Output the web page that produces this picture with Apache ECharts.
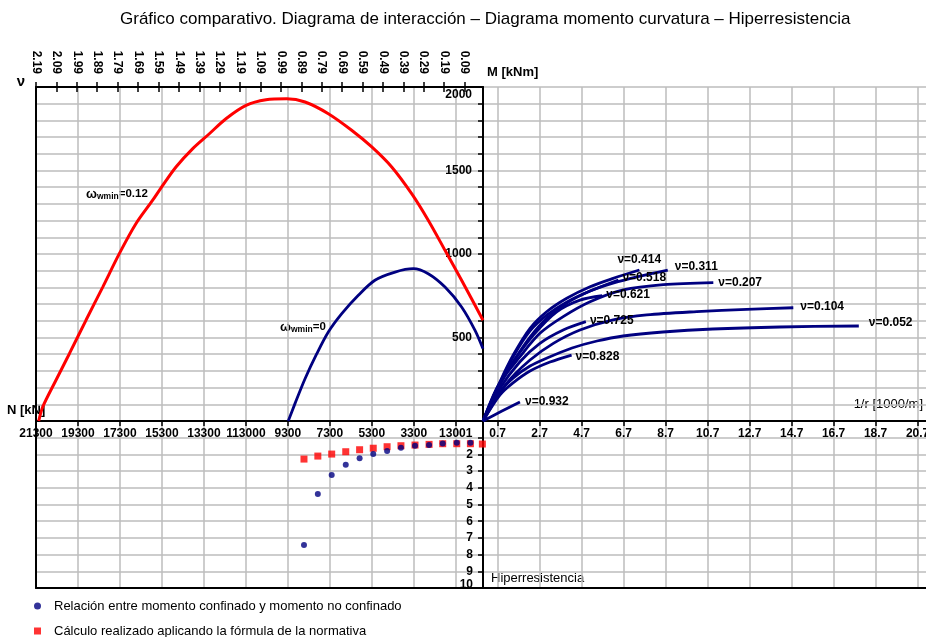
<!DOCTYPE html>
<html>
<head>
<meta charset="utf-8">
<script src="https://cdn.jsdelivr.net/npm/echarts@6/dist/echarts.min.js"></script>
<style>
  html, body { margin: 0; padding: 0; background: #fff; }
  #chart { width: 926px; height: 637px; }
</style>
</head>
<body>
<div id="chart"></div>
<script>
const FONT = '"Liberation Sans", Arial, Helvetica, sans-serif';

// Axial load axis N [kN], drawn reversed (21300 on the left, 0 at the centre line)
const nTicks = [21300, 19300, 17300, 15300, 13300, 11300, 9300, 7300, 5300, 3300, 1300];
const nTickLabels = ['21300', '19300', '17300', '15300', '13300', '113000', '9300', '7300', '5300', '3300', '13001'];

// Reduced axial load ν on the top axis
const nuTicks = [2.19, 2.09, 1.99, 1.89, 1.79, 1.69, 1.59, 1.49, 1.39, 1.29, 1.19,
                 1.09, 0.99, 0.89, 0.79, 0.69, 0.59, 0.49, 0.39, 0.29, 0.19, 0.09];
const nuTickLabels = ['2.19', '2.09', '1.99', '1.89', '1.79', '1.69', '1.59', '1.49', '1.39', '1.29', '1.19',
                      '1.09', '0.99', '0.89', '0.79', '0.69', '0.59', '0.49', '0.39', '0.29', '0.19', '0.09'];

// Curvature axis 1/r [1000/m]
const curvTicks = [0.7, 2.7, 4.7, 6.7, 8.7, 10.7, 12.7, 14.7, 16.7, 18.7, 20.7];
const curvTickLabels = ['0.7', '2.7', '4.7', '6.7', '8.7', '10.7', '12.7', '14.7', '16.7', '18.7', '20.7'];

// Interaction diagram, ω_wmin = 0.12 (N [kN], M [kNm])
const confinedN = [21170, 20980, 20350, 19710, 18920, 18120, 17330, 16540, 15740, 15260, 14630, 13830, 13040,
                   12250, 11290, 10340, 9350, 8480, 7370, 6260, 5300, 4350, 3400, 2610, 1810, 1020, 0];
const confinedM = [0, 84, 244, 403, 603, 802, 1002, 1181, 1322, 1411, 1521, 1631, 1720,
                   1810, 1890, 1924, 1930, 1910, 1840, 1741, 1641, 1521, 1361, 1202, 1022, 843, 603];

// Interaction diagram, ω_wmin = 0
const plainN = [9280, 8960, 8480, 7920, 7370, 6730, 5940, 5150, 4190, 3320, 2610, 1810, 1020, 380, 0];
const plainM = [0, 104, 253, 403, 533, 643, 753, 843, 892, 912, 882, 802, 683, 543, 433];

// Moment–curvature curves for each ν (curvature [1000/m], M [kNm])
const mc0414K = [0, 0.81, 1.44, 2.24, 3.03, 3.99, 5.10, 6.20, 7.45];
const mc0414M = [0, 235, 395, 555, 654, 735, 804, 854, 904];
const mc0311K = [0, 0.81, 1.43, 2.24, 3.05, 4.00, 5.10, 6.19, 7.48, 8.80];
const mc0311M = [0, 216, 353, 503, 617, 707, 778, 826, 868, 904];
const mc0518K = [0, 0.81, 1.43, 2.24, 3.05, 4.00, 5.10, 6.45];
const mc0518M = [0, 228, 383, 539, 635, 713, 778, 844];
const mc0207K = [0, 0.81, 1.76, 2.71, 3.82, 5.10, 6.68, 8.59, 10.97];
const mc0207M = [0, 228, 385, 525, 625, 714, 785, 817, 829];
const mc0621K = [0, 0.65, 1.44, 2.40, 3.51, 4.62, 5.68];
const mc0621M = [0, 196, 355, 515, 654, 724, 750];
const mc0104K = [0, 1.13, 2.24, 3.35, 4.62, 6.20, 7.80, 10.18, 12.56, 14.78];
const mc0104M = [0, 226, 365, 465, 545, 605, 635, 655, 669, 678];
const mc0725K = [0, 0.81, 1.76, 2.71, 3.82, 4.90];
const mc0725M = [0, 196, 355, 465, 545, 595];
const mc0052K = [0, 0.81, 1.43, 2.24, 3.05, 4.24, 5.43, 6.67, 8.57, 10.95, 14.14, 17.90];
const mc0052M = [0, 174, 257, 329, 377, 437, 479, 509, 533, 551, 563, 569];
const mc0828K = [0, 0.81, 1.43, 2.24, 3.19, 4.22];
const mc0828M = [0, 156, 228, 299, 353, 395];
const mc0932K = [0, 0.88, 1.76];
const mc0932M = [0, 58, 114];

// Over-strength ratios against axial load N [kN]
const ratioConfN = [8530, 7870, 7210, 6540, 5880, 5230, 4570, 3910, 3240, 2570, 1920, 1250, 600];
const ratioConf = [7.43, 4.37, 3.23, 2.62, 2.23, 1.98, 1.80, 1.60, 1.48, 1.44, 1.34, 1.30, 1.30];
const ratioCodeN = [8530, 7870, 7210, 6540, 5880, 5230, 4570, 3910, 3240, 2570, 1920, 1250, 600, 30];
const ratioCode = [2.28, 2.10, 1.98, 1.84, 1.72, 1.63, 1.54, 1.48, 1.44, 1.40, 1.36, 1.36, 1.36, 1.38];

const NAME_CONF = 'Relación entre momento confinado y momento no confinado';
const NAME_CODE = 'Cálculo realizado aplicando la fórmula de la normativa';

const RED = '#ff0000';
const NAVY = '#000080';

const zip = (a, b) => a.map((v, i) => [v, b[i]]);
const labelFor = (ticks, labels) => v => {
  const i = ticks.findIndex(t => Math.abs(t - v) < 1e-6);
  return i < 0 ? '' : labels[i];
};

const tickFont = { fontFamily: FONT, fontSize: 12, fontWeight: 'bold', color: '#000' };
const gridLines = { show: true, lineStyle: { color: '#bdbdbd', width: 1.5 } };
const frameLine = { show: true, onZero: false, lineStyle: { color: '#000', width: 2 } };
const noLine = { show: false, onZero: false };
const tickStyle = { color: '#000', width: 1.5 };

function mcSeries(name, k, m, offset) {
  return {
    type: 'line', name: name, xAxisIndex: 3, yAxisIndex: 2,
    data: zip(k, m), smooth: 0.3, symbol: 'none', silent: true,
    lineStyle: { color: NAVY, width: 2.8 },
    endLabel: { show: true, formatter: name, offset: offset, distance: 8, ...tickFont }
  };
}

const chart = echarts.init(document.getElementById('chart'), null, { renderer: 'canvas' });

chart.setOption({
  animation: false,
  backgroundColor: '#fff',
  title: {
    text: 'Gráfico comparativo. Diagrama de interacción – Diagrama momento curvatura – Hiperresistencia',
    left: 120, top: 11, padding: 0,
    textStyle: { fontFamily: FONT, fontSize: 17, fontWeight: 'normal', color: '#000' }
  },
  legend: {
    orient: 'vertical', left: 34, top: 599, height: 44, padding: 0,
    itemWidth: 7, itemHeight: 7, itemGap: 11,
    textStyle: { fontFamily: FONT, fontSize: 13, color: '#000', lineHeight: 14, padding: [0, 0, 0, 8] },
    data: [
      { name: NAME_CONF, icon: 'circle' },
      { name: NAME_CODE, icon: 'rect' }
    ]
  },
  grid: [
    { left: 36, top: 87, width: 447, height: 334, outerBoundsMode: 'none' },
    { left: 483, top: 87, width: 443, height: 334, outerBoundsMode: 'none' },
    { left: 36, top: 421, width: 447, height: 167, outerBoundsMode: 'none' },
    { left: 483, top: 421, width: 443, height: 167, outerBoundsMode: 'none' }
  ],
  xAxis: [
    { // 0: axial load, interaction diagram
      gridIndex: 0, type: 'value', position: 'bottom', min: 0, max: 21300, inverse: true,
      axisLine: frameLine,
      axisTick: { show: true, length: 5, customValues: nTicks, lineStyle: tickStyle },
      axisLabel: { show: true, customValues: nTicks, margin: 7, formatter: labelFor(nTicks, nTickLabels), ...tickFont },
      splitLine: gridLines
    },
    { // 1: ν, labels and outer ticks
      gridIndex: 0, type: 'value', position: 'top', min: 0, max: 2.19, inverse: true,
      axisLine: frameLine,
      axisTick: { show: true, length: 5, customValues: nuTicks, lineStyle: tickStyle },
      axisLabel: { show: true, customValues: nuTicks, rotate: 90, margin: 13, formatter: labelFor(nuTicks, nuTickLabels), ...tickFont },
      splitLine: { show: false }
    },
    { // 2: ν, inner ticks
      gridIndex: 0, type: 'value', position: 'top', min: 0, max: 2.19, inverse: true,
      axisLine: noLine,
      axisTick: { show: true, inside: true, length: 5, customValues: nuTicks, lineStyle: tickStyle },
      axisLabel: { show: false },
      splitLine: { show: false }
    },
    { // 3: curvature
      gridIndex: 1, type: 'value', position: 'bottom', min: 0, max: 21.1,
      axisLine: frameLine,
      axisTick: { show: true, length: 5, customValues: curvTicks, lineStyle: tickStyle },
      axisLabel: { show: true, customValues: curvTicks, margin: 7, formatter: labelFor(curvTicks, curvTickLabels), ...tickFont },
      splitLine: gridLines
    },
    { // 4: axial load, over-strength panel
      gridIndex: 2, type: 'value', position: 'bottom', min: 0, max: 21300, inverse: true,
      axisLine: frameLine,
      axisTick: { show: false, customValues: nTicks },
      axisLabel: { show: false },
      splitLine: gridLines
    },
    { // 5: curvature, lower right panel
      gridIndex: 3, type: 'value', position: 'bottom', min: 0, max: 21.1,
      axisLine: frameLine,
      axisTick: { show: false, customValues: curvTicks },
      axisLabel: { show: false },
      splitLine: gridLines
    }
  ],
  yAxis: [
    { // 0: moment, centre line
      gridIndex: 0, type: 'value', position: 'right', min: 0, max: 2000, interval: 100,
      axisLine: frameLine,
      axisTick: { show: true, inside: true, length: 5, lineStyle: tickStyle },
      axisLabel: {
        show: true, inside: true, margin: 11, ...tickFont,
        formatter: v => (v === 2000 ? '{t|2000}' : (v > 0 && v % 500 === 0 ? String(v) : '')),
        rich: { t: { ...tickFont, padding: [16, 0, 0, 0] } }
      },
      splitLine: gridLines
    },
    { // 1: left frame
      gridIndex: 0, type: 'value', position: 'left', min: 0, max: 2000,
      axisLine: frameLine, axisTick: { show: false }, axisLabel: { show: false }, splitLine: { show: false }
    },
    { // 2: moment, curvature panel
      gridIndex: 1, type: 'value', position: 'left', min: 0, max: 2000, interval: 100,
      axisLine: noLine, axisTick: { show: false }, axisLabel: { show: false },
      splitLine: gridLines
    },
    { // 3: over-strength ratio, centre line
      gridIndex: 2, type: 'value', position: 'right', min: 0, max: 10, interval: 1, inverse: true,
      axisLine: frameLine,
      axisTick: { show: true, inside: true, length: 5, lineStyle: tickStyle },
      axisLabel: {
        show: true, inside: true, margin: 10, ...tickFont,
        formatter: v => (v === 10 ? '{b|10}' : (v >= 2 ? String(v) : '')),
        rich: { b: { ...tickFont, padding: [0, 0, 6, 0] } }
      },
      splitLine: gridLines
    },
    { // 4: left frame, lower panel
      gridIndex: 2, type: 'value', position: 'left', min: 0, max: 10, inverse: true,
      axisLine: frameLine, axisTick: { show: false }, axisLabel: { show: false }, splitLine: { show: false }
    },
    { // 5: lower right panel
      gridIndex: 3, type: 'value', position: 'left', min: 0, max: 10, interval: 1, inverse: true,
      axisLine: noLine, axisTick: { show: false }, axisLabel: { show: false },
      splitLine: gridLines
    }
  ],
  graphic: [
    { type: 'text', x: 21, y: 82, style: { text: 'ν', align: 'center', verticalAlign: 'middle', fontFamily: FONT, fontSize: 15, fontWeight: 'bold', fill: '#000' } },
    { type: 'text', x: 487, y: 72, style: { text: 'M [kNm]', align: 'left', verticalAlign: 'middle', fontFamily: FONT, fontSize: 13, fontWeight: 'bold', fill: '#000' } },
    { type: 'text', x: 7, y: 410, style: { text: 'N [kN]', align: 'left', verticalAlign: 'middle', fontFamily: FONT, fontSize: 13, fontWeight: 'bold', fill: '#000' } },
    { type: 'text', x: 923, y: 404, style: { text: '1/r [1000/m]', align: 'right', verticalAlign: 'middle', fontFamily: FONT, fontSize: 13, fill: '#000' } },
    { type: 'text', x: 491, y: 578, style: { text: 'Hiperresistencia', align: 'left', verticalAlign: 'middle', fontFamily: FONT, fontSize: 13, fill: '#000' } },
    { type: 'text', x: 86, y: 194, style: {
        text: '{w|ω}{s|wmin}{n|=0.12}', align: 'left', verticalAlign: 'middle',
        rich: {
          w: { fontFamily: FONT, fontSize: 13, fontWeight: 'bold', fill: '#000' },
          s: { fontFamily: FONT, fontSize: 8.5, fontWeight: 'bold', fill: '#000', padding: [6, 0, 0, 0] },
          n: { fontFamily: FONT, fontSize: 11.5, fontWeight: 'bold', fill: '#000' }
        } } },
    { type: 'text', x: 280, y: 327, style: {
        text: '{w|ω}{s|wmin}{n|=0}', align: 'left', verticalAlign: 'middle',
        rich: {
          w: { fontFamily: FONT, fontSize: 13, fontWeight: 'bold', fill: '#000' },
          s: { fontFamily: FONT, fontSize: 8.5, fontWeight: 'bold', fill: '#000', padding: [6, 0, 0, 0] },
          n: { fontFamily: FONT, fontSize: 11.5, fontWeight: 'bold', fill: '#000' }
        } } }
  ],
  series: [
    {
      type: 'line', name: 'ω_wmin=0.12', xAxisIndex: 0, yAxisIndex: 0,
      data: zip(confinedN, confinedM), smooth: 0.3, symbol: 'none', silent: true,
      lineStyle: { color: RED, width: 3 }
    },
    {
      type: 'line', name: 'ω_wmin=0', xAxisIndex: 0, yAxisIndex: 0,
      data: zip(plainN, plainM), smooth: 0.3, symbol: 'none', silent: true,
      lineStyle: { color: NAVY, width: 2.8 }
    },
    mcSeries('ν=0.414', mc0414K, mc0414M, [-30, -10]),
    mcSeries('ν=0.311', mc0311K, mc0311M, [-1, -3]),
    mcSeries('ν=0.518', mc0518K, mc0518M, [-4, -2]),
    mcSeries('ν=0.207', mc0207K, mc0207M, [-3, 0]),
    mcSeries('ν=0.621', mc0621K, mc0621M, [-4, -1]),
    mcSeries('ν=0.104', mc0104K, mc0104M, [-1, -1]),
    mcSeries('ν=0.725', mc0725K, mc0725M, [-4, -1]),
    mcSeries('ν=0.052', mc0052K, mc0052M, [2, -3]),
    mcSeries('ν=0.828', mc0828K, mc0828M, [-4, 2]),
    mcSeries('ν=0.932', mc0932K, mc0932M, [-3, 0]),
    {
      type: 'scatter', name: NAME_CODE, xAxisIndex: 4, yAxisIndex: 3,
      data: zip(ratioCodeN, ratioCode), symbol: 'rect', symbolSize: 7,
      itemStyle: { color: RED }, z: 3
    },
    {
      type: 'scatter', name: NAME_CONF, xAxisIndex: 4, yAxisIndex: 3,
      data: zip(ratioConfN, ratioConf), symbol: 'circle', symbolSize: 6,
      itemStyle: { color: NAVY }, z: 4
    }
  ]
});
</script>
</body>
</html>
